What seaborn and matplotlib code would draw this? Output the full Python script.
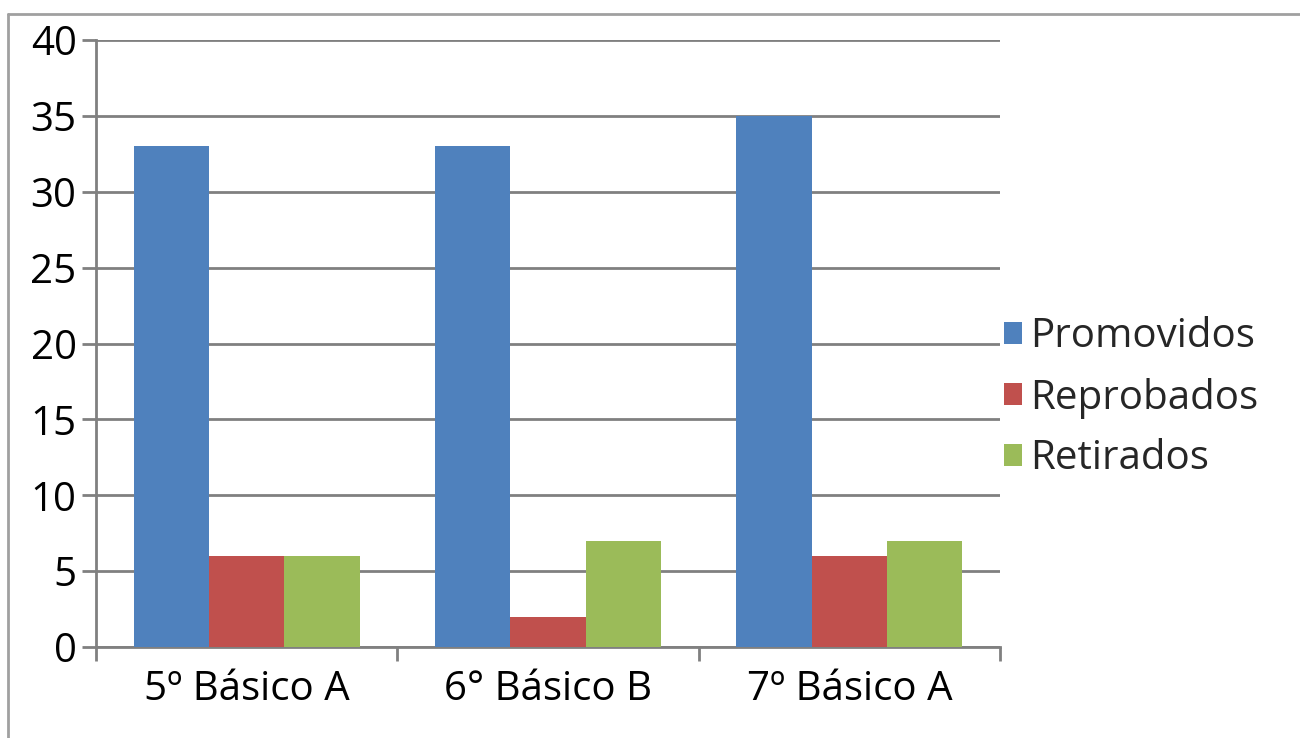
import numpy as np
import pandas as pd
import matplotlib
matplotlib.use("Agg")
import matplotlib.pyplot as plt
from matplotlib.lines import Line2D
from matplotlib.ticker import FixedLocator
import seaborn as sns

# ── Data ────────────────────────────────────────────────
cursos      = ["5º Básico A", "6° Básico B", "7º Básico A"]
series      = ["Promovidos", "Reprobados", "Retirados"]
promovidos  = [33, 33, 35]
reprobados  = [6, 2, 6]
retirados   = [6, 7, 7]
y_ticks     = [0, 5, 10, 15, 20, 25, 30, 35, 40]

colores = ["#4F81BD", "#C0504D", "#9BBB59"]
GRID    = "#808080"
FS      = 29

df = pd.DataFrame({
    "Curso": cursos * 3,
    "Serie": [s for s in series for _ in cursos],
    "Valor": promovidos + reprobados + retirados,
})

sns.set_theme(style="white")
plt.rcParams["font.family"] = ["Open Sans", "DejaVu Sans"]

fig = plt.figure(figsize=(13, 7.38), dpi=100)
ax = fig.add_axes([96 / 1300, 1 - 647 / 738, (1000 - 96) / 1300, (647 - 40) / 738])

sns.barplot(data=df, x="Curso", y="Valor", hue="Serie", order=cursos,
            hue_order=series, palette=colores, saturation=1, width=0.75,
            linewidth=0, ax=ax, zorder=3)

ax.set_xlim(-0.5, len(cursos) - 0.5)
ax.set_ylim(0, 40)
ax.set_yticks(y_ticks)
ax.set_yticklabels([str(t) for t in y_ticks])
ax.xaxis.set_minor_locator(FixedLocator(np.arange(-0.5, len(cursos), 1.0)))
ax.set_xlabel("")
ax.set_ylabel("")

ax.yaxis.grid(True, color=GRID, linewidth=2, zorder=0)
ax.set_axisbelow(True)
for s in ["top", "right"]:
    ax.spines[s].set_visible(False)
for s in ["left", "bottom"]:
    ax.spines[s].set_color(GRID)
    ax.spines[s].set_linewidth(2)

ax.tick_params(axis="y", which="major", left=True, length=10, width=2,
               color=GRID, labelsize=FS, pad=4, labelcolor="black")
ax.tick_params(axis="x", which="major", bottom=False, length=0,
               labelsize=FS, pad=16, labelcolor="black")
ax.tick_params(axis="x", which="minor", bottom=True, length=10, width=2,
               color=GRID)

ax.legend(loc="center left", bbox_to_anchor=(1.004, 0.41), frameon=False,
          fontsize=FS, handlelength=0.45, handleheight=0.45,
          handletextpad=0.2, labelspacing=0.5, borderaxespad=0,
          borderpad=0)

# outer chart border (top and left)
fig.add_artist(Line2D([8 / 1300, 8 / 1300], [0, 1 - 14 / 738],
                      color="#A0A0A0", linewidth=2, transform=fig.transFigure))
fig.add_artist(Line2D([8 / 1300, 1], [1 - 14 / 738, 1 - 14 / 738],
                      color="#A0A0A0", linewidth=2, transform=fig.transFigure))

fig.savefig("out.png", dpi=100)
